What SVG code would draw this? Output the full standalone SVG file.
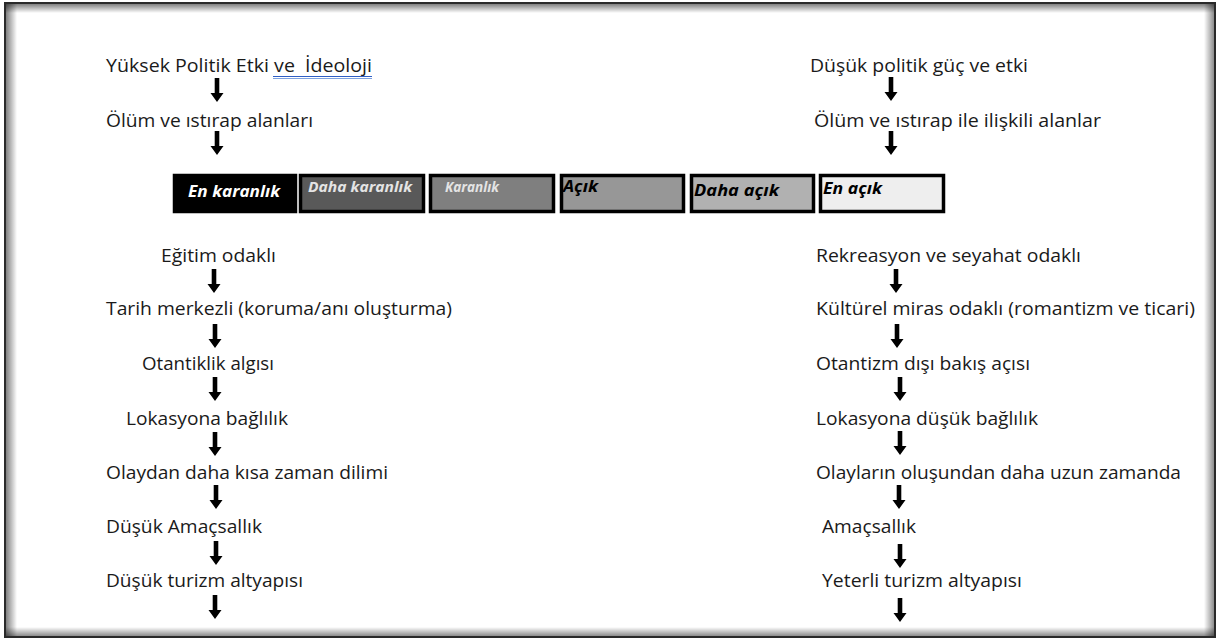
<svg xmlns="http://www.w3.org/2000/svg" width="1218" height="639" viewBox="0 0 1218 639">
<style>
.t{font-family:"Open Sans","Liberation Sans",sans-serif;font-size:18px;fill:#1a1a1a}
.b{font-family:"Open Sans","Liberation Sans",sans-serif;font-weight:bold;font-style:italic;font-size:16.5px}
.box{stroke:#000;stroke-width:3.5}
.arr{fill:#000}
</style>
<defs>
<path id="a" d="M-2.3,0 H2.3 V15 H6.5 L0,24 L-6.5,15 H-2.3 Z"/>
<linearGradient id="gL" x1="0" y1="0" x2="1" y2="0"><stop offset="0" stop-color="#000" stop-opacity="0.5"/><stop offset="1" stop-color="#000" stop-opacity="0"/></linearGradient>
<linearGradient id="gR" x1="1" y1="0" x2="0" y2="0"><stop offset="0" stop-color="#000" stop-opacity="0.45"/><stop offset="1" stop-color="#000" stop-opacity="0"/></linearGradient>
<linearGradient id="gT" x1="0" y1="0" x2="0" y2="1"><stop offset="0" stop-color="#000" stop-opacity="0.5"/><stop offset="1" stop-color="#000" stop-opacity="0"/></linearGradient>
<linearGradient id="gB" x1="0" y1="1" x2="0" y2="0"><stop offset="0" stop-color="#000" stop-opacity="0.45"/><stop offset="1" stop-color="#000" stop-opacity="0"/></linearGradient>
</defs>
<rect width="1218" height="639" fill="#fff"/>
<g id="frame">
<rect x="6" y="4" width="11" height="632" fill="url(#gL)"/>
<rect x="6" y="4" width="1208" height="9" fill="url(#gT)"/>
<rect x="1204" y="4" width="10" height="632" fill="url(#gR)"/>
<rect x="6" y="627" width="1208" height="9" fill="url(#gB)"/>
<rect x="5" y="3" width="1210" height="634" fill="none" stroke="#2a2a2a" stroke-width="2"/>
</g>
<g id="left-column">
<g id="n-yuksek"><text class="t" x="106" y="71.5" textLength="266" lengthAdjust="spacingAndGlyphs" xml:space="preserve">Yüksek Politik Etki ve  İdeoloji</text>
<line x1="273" y1="76.5" x2="372" y2="76.5" stroke="#2f5ec4" stroke-width="1"/>
<line x1="273" y1="78.5" x2="372" y2="78.5" stroke="#7ea2e0" stroke-width="1"/></g>
<g id="n-olum"><text class="t" x="106" y="126.5" textLength="207" lengthAdjust="spacingAndGlyphs">Ölüm ve ıstırap alanları</text></g>
<g id="n-egitim"><text class="t" x="161" y="262" textLength="115" lengthAdjust="spacingAndGlyphs">Eğitim odaklı</text></g>
<g id="n-tarih"><text class="t" x="106" y="315" textLength="346" lengthAdjust="spacingAndGlyphs">Tarih merkezli (koruma/anı oluşturma)</text></g>
<g id="n-otantiklik"><text class="t" x="142" y="370" textLength="132" lengthAdjust="spacingAndGlyphs">Otantiklik algısı</text></g>
<g id="n-lokasyona"><text class="t" x="126" y="425" textLength="162" lengthAdjust="spacingAndGlyphs">Lokasyona bağlılık</text></g>
<g id="n-olaydan"><text class="t" x="106" y="478.5" textLength="282" lengthAdjust="spacingAndGlyphs">Olaydan daha kısa zaman dilimi</text></g>
<g id="n-dusuk-amac"><text class="t" x="106" y="532.5" textLength="156" lengthAdjust="spacingAndGlyphs">Düşük Amaçsallık</text></g>
<g id="n-dusuk-turizm"><text class="t" x="106" y="586.5" textLength="197" lengthAdjust="spacingAndGlyphs">Düşük turizm altyapısı</text></g>
</g>
<g id="right-column">
<g id="n-dusuk-politik"><text class="t" x="810" y="71.5" textLength="218" lengthAdjust="spacingAndGlyphs">Düşük politik güç ve etki</text></g>
<g id="n-olum-iliskili"><text class="t" x="814" y="126.5" textLength="287" lengthAdjust="spacingAndGlyphs">Ölüm ve ıstırap ile ilişkili alanlar</text></g>
<g id="n-rekreasyon"><text class="t" x="816" y="262" textLength="265" lengthAdjust="spacingAndGlyphs">Rekreasyon ve seyahat odaklı</text></g>
<g id="n-kulturel"><text class="t" x="816" y="315" textLength="379" lengthAdjust="spacingAndGlyphs">Kültürel miras odaklı (romantizm ve ticari)</text></g>
<g id="n-otantizm"><text class="t" x="816" y="370" textLength="214" lengthAdjust="spacingAndGlyphs">Otantizm dışı bakış açısı</text></g>
<g id="n-lokasyona-dusuk"><text class="t" x="816" y="425" textLength="222" lengthAdjust="spacingAndGlyphs">Lokasyona düşük bağlılık</text></g>
<g id="n-olaylarin"><text class="t" x="816" y="478.5" textLength="365" lengthAdjust="spacingAndGlyphs">Olayların oluşundan daha uzun zamanda</text></g>
<g id="n-amacsallik"><text class="t" x="822" y="532.5" textLength="94" lengthAdjust="spacingAndGlyphs">Amaçsallık</text></g>
<g id="n-yeterli"><text class="t" x="822" y="586.5" textLength="200" lengthAdjust="spacingAndGlyphs">Yeterli turizm altyapısı</text></g>
</g>
<g id="scale">
<g id="b1"><rect class="box" x="174.5" y="175.5" width="121" height="36" fill="#000"/><text class="b" x="188" y="197" textLength="92" lengthAdjust="spacingAndGlyphs" fill="#fff">En karanlık</text></g>
<g id="b2"><rect class="box" x="300.5" y="175.5" width="123" height="36" fill="#595959"/><text class="b" x="308" y="192" textLength="104" lengthAdjust="spacingAndGlyphs" fill="#e4e4e4" style="font-size:15px">Daha karanlık</text></g>
<g id="b3"><rect class="box" x="430.5" y="175.5" width="123" height="36" fill="#7f7f7f"/><text class="b" x="445" y="192" textLength="54" lengthAdjust="spacingAndGlyphs" fill="#e4e4e4" style="font-size:15px">Karanlık</text></g>
<g id="b4"><rect class="box" x="561.5" y="175.5" width="122" height="36" fill="#979797"/><text class="b" x="563" y="192" textLength="35" lengthAdjust="spacingAndGlyphs" fill="#000">Açık</text></g>
<g id="b5"><rect class="box" x="691.5" y="175.5" width="122" height="36" fill="#b1b1b1"/><text class="b" x="694" y="196" textLength="85" lengthAdjust="spacingAndGlyphs" fill="#000">Daha açık</text></g>
<g id="b6"><rect class="box" x="820.5" y="175.5" width="123" height="36" fill="#eeeeee"/><text class="b" x="823" y="194" textLength="59" lengthAdjust="spacingAndGlyphs" fill="#000">En açık</text></g>
</g>
<g id="connectors" class="arr">
<use href="#a" x="217" y="78"/>
<use href="#a" x="217" y="131"/>
<use href="#a" x="214" y="269"/>
<use href="#a" x="215" y="324"/>
<use href="#a" x="215" y="377"/>
<use href="#a" x="215" y="432"/>
<use href="#a" x="216" y="485"/>
<use href="#a" x="216" y="541"/>
<use href="#a" x="215" y="595"/>
<use href="#a" x="891" y="77"/>
<use href="#a" x="891" y="131"/>
<use href="#a" x="896" y="269"/>
<use href="#a" x="897" y="324"/>
<use href="#a" x="900" y="377"/>
<use href="#a" x="900" y="431"/>
<use href="#a" x="899" y="485"/>
<use href="#a" x="900" y="544"/>
<use href="#a" x="900" y="598"/>
</g>
</svg>
